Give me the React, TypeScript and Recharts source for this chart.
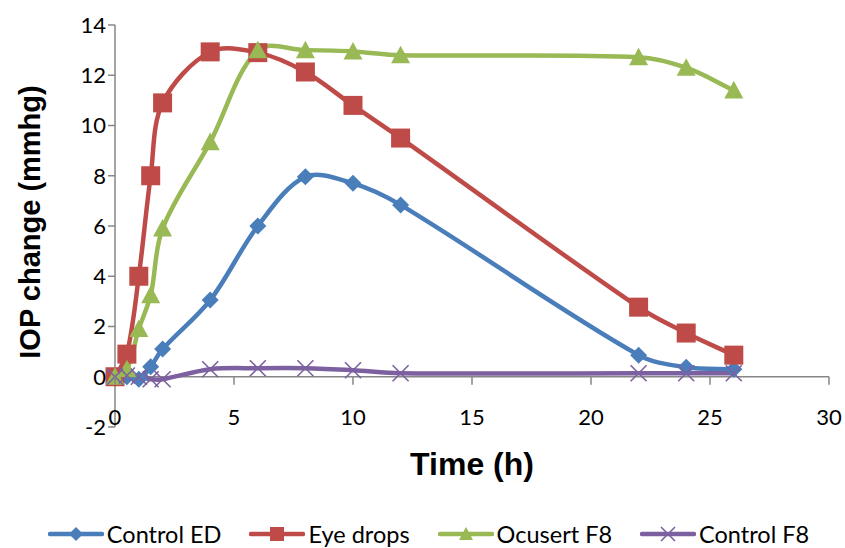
import { LineChart, Line, XAxis, YAxis, ReferenceLine } from 'recharts';

// sampling times (h) and IOP change (mmHg) per group
const TIME = [0, 0.5, 1, 1.5, 2, 4, 6, 8, 10, 12, 22, 24, 26];
const CONTROL_ED = [0, 0, -0.1, 0.4, 1.1, 3.05, 6.0, 7.96, 7.7, 6.84, 0.86, 0.38, 0.3];
const EYE_DROPS = [0, 0.9, 4.0, 8.0, 10.9, 12.93, 12.9, 12.13, 10.8, 9.5, 2.77, 1.74, 0.86];
const OCUSERT_F8 = [0, 0.3, 1.9, 3.25, 5.9, 9.34, 13.0, 13.0, 12.95, 12.8, 12.72, 12.3, 11.4];
const CONTROL_F8 = [0, 0.05, 0, -0.1, -0.1, 0.3, 0.34, 0.34, 0.26, 0.14, 0.14, 0.14, 0.14];

const X_TICKS = [0, 5, 10, 15, 20, 25, 30];
const Y_TICKS = [-2, 0, 2, 4, 6, 8, 10, 12, 14];

const W = 845;
const H = 548;
const TOP = 25;
const BOTTOM = 121;
const Y_MIN = -2;
const Y_MAX = 14;
const AXIS = '#868686';
const TICK_FONT = 'Lato, "Open Sans", sans-serif';
const TITLE_FONT = '"Liberation Sans", Arial, sans-serif';

const rows = TIME.map((t, i) => ({
  t,
  controlEd: CONTROL_ED[i],
  eyeDrops: EYE_DROPS[i],
  ocusert: OCUSERT_F8[i],
  controlF8: CONTROL_F8[i],
}));

// pixel row of the y=0 line, where the time axis sits
const zeroY = TOP + ((Y_MAX - 0) / (Y_MAX - Y_MIN)) * (H - TOP - BOTTOM);

// smoothed line: bezier through every point, tangent scaled by the
// neighbouring segment lengths so uneven spacing doesn't overshoot
function smoothCurve(context: any) {
  let pts: [number, number][] = [];
  const dist = (a: number[], b: number[]) => Math.hypot(b[0] - a[0], b[1] - a[1]);
  const tangent = (i: number) => {
    const p0 = pts[Math.max(i - 1, 0)];
    const p2 = pts[Math.min(i + 1, pts.length - 1)];
    const len = dist(p0, pts[i]) + dist(pts[i], p2) || 1;
    return [(p2[0] - p0[0]) / len, (p2[1] - p0[1]) / len];
  };
  return {
    areaStart() {},
    areaEnd() {},
    lineStart() {
      pts = [];
    },
    lineEnd() {
      const n = pts.length;
      if (!n) return;
      context.moveTo(pts[0][0], pts[0][1]);
      for (let i = 0; i < n - 1; i++) {
        const p1 = pts[i];
        const p2 = pts[i + 1];
        const seg = dist(p1, p2) / 3;
        const t1 = tangent(i);
        const t2 = tangent(i + 1);
        context.bezierCurveTo(
          p1[0] + t1[0] * seg,
          p1[1] + t1[1] * seg,
          p2[0] - t2[0] * seg,
          p2[1] - t2[1] * seg,
          p2[0],
          p2[1]
        );
      }
    },
    point(x: number, y: number) {
      pts.push([+x, +y]);
    },
  };
}

function Diamond({ cx, cy, color, size = 8.5 }: any) {
  return (
    <path
      d={`M${cx},${cy - size}L${cx + size},${cy}L${cx},${cy + size}L${cx - size},${cy}Z`}
      fill={color}
    />
  );
}

function Square({ cx, cy, color, size = 9.5 }: any) {
  return <rect x={cx - size} y={cy - size} width={size * 2} height={size * 2} fill={color} />;
}

function Triangle({ cx, cy, color, size = 9.5 }: any) {
  return (
    <path
      d={`M${cx},${cy - size}L${cx + size},${cy + size * 0.85}L${cx - size},${cy + size * 0.85}Z`}
      fill={color}
    />
  );
}

function Cross({ cx, cy, color, size = 8 }: any) {
  return (
    <path
      d={`M${cx - size},${cy - size}L${cx + size},${cy + size}M${cx - size},${cy + size}L${cx + size},${cy - size}`}
      stroke={color}
      strokeWidth={1.6}
      fill="none"
    />
  );
}

const SERIES = [
  { key: 'controlEd', name: 'Control ED', color: '#4A7EBB', Marker: Diamond },
  { key: 'eyeDrops', name: 'Eye drops', color: '#BE4B48', Marker: Square },
  { key: 'ocusert', name: 'Ocusert F8', color: '#98B954', Marker: Triangle },
  { key: 'controlF8', name: 'Control F8', color: '#7D60A0', Marker: Cross },
];

function TimeTick({ x, payload }: any) {
  return (
    <g>
      <line x1={x} x2={x} y1={zeroY} y2={zeroY + 8} stroke={AXIS} strokeWidth={1.5} />
      <text
        x={x}
        y={zeroY + 40}
        textAnchor="middle"
        dominantBaseline="central"
        fontFamily={TICK_FONT}
        fontSize={22}
        fill="#000"
      >
        {payload.value}
      </text>
    </g>
  );
}

function TimeTitle({ viewBox }: any) {
  const { x, width } = viewBox;
  return (
    <text
      x={x + width / 2}
      y={zeroY + 87}
      textAnchor="middle"
      dominantBaseline="central"
      fontFamily={TITLE_FONT}
      fontWeight="bold"
      fontSize={32}
      fill="#000"
    >
      Time (h)
    </text>
  );
}

function IopTitle() {
  const cy = TOP + (H - TOP - BOTTOM) / 2 - 4;
  return (
    <text
      x={30}
      y={cy}
      transform={`rotate(-90, 30, ${cy})`}
      textAnchor="middle"
      dominantBaseline="central"
      fontFamily={TITLE_FONT}
      fontWeight="bold"
      fontSize={29}
      fill="#000"
    >
      IOP change (mmhg)
    </text>
  );
}

function LegendRow() {
  return (
    <div
      style={{
        position: 'absolute',
        left: 12,
        top: 521,
        width: W - 12,
        display: 'flex',
        justifyContent: 'center',
        gap: 28,
        fontFamily: TICK_FONT,
        fontSize: 23.5,
        color: '#000',
      }}
    >
      {SERIES.map(({ name, color, Marker }) => (
        <div key={name} style={{ display: 'flex', alignItems: 'center' }}>
          <svg width={56} height={26}>
            <line x1={2} x2={54} y1={13} y2={13} stroke={color} strokeWidth={4.5} strokeLinecap="round" />
            <Marker cx={28} cy={13} color={color} size={7} />
          </svg>
          <span style={{ marginLeft: 3, lineHeight: '26px' }}>{name}</span>
        </div>
      ))}
    </div>
  );
}

export default function App() {
  return (
    <div style={{ position: 'absolute', left: 0, top: 0, width: W, height: H, background: '#fff' }}>
      <LineChart width={W} height={H} data={rows} margin={{ top: TOP, right: 16, bottom: 0, left: 0 }}>
        <XAxis
          dataKey="t"
          type="number"
          domain={[0, 30]}
          ticks={X_TICKS}
          axisLine={false}
          tickLine={false}
          height={BOTTOM}
          tick={<TimeTick />}
          label={<TimeTitle />}
        />
        <YAxis
          type="number"
          domain={[Y_MIN, Y_MAX]}
          ticks={Y_TICKS}
          width={115}
          axisLine={{ stroke: AXIS, strokeWidth: 1.5 }}
          tickLine={{ stroke: AXIS, strokeWidth: 1.5 }}
          tickSize={7}
          tick={{ fontFamily: TICK_FONT, fontSize: 22, fill: '#000' }}
          label={<IopTitle />}
        />
        <ReferenceLine y={0} stroke={AXIS} strokeWidth={1.5} />
        {SERIES.map(({ key, name, color, Marker }) => (
          <Line
            key={key}
            dataKey={key}
            name={name}
            type={smoothCurve as any}
            stroke={color}
            strokeWidth={4.5}
            dot={(p: any) => <Marker key={`${key}-${p.index}`} cx={p.cx} cy={p.cy} color={color} />}
            activeDot={false}
            isAnimationActive={false}
          />
        ))}
      </LineChart>
      <LegendRow />
    </div>
  );
}
